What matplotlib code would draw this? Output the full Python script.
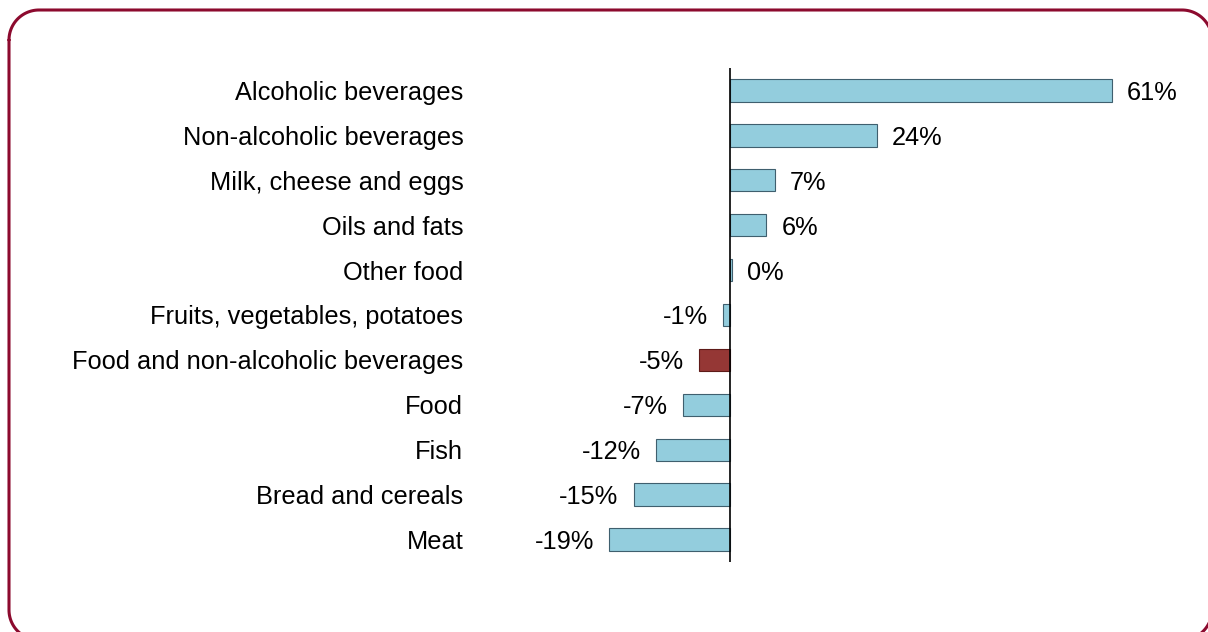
import numpy as np
import matplotlib.pyplot as plt

plt.rcParams['font.family'] = ['Liberation Sans', 'DejaVu Sans']

categories = ['Alcoholic beverages', 'Non-alcoholic beverages', 'Milk, cheese and eggs',
              'Oils and fats', 'Other food', 'Fruits, vegetables, potatoes',
              'Food and non-alcoholic beverages', 'Food', 'Fish', 'Bread and cereals', 'Meat']
values = [61.0, 23.5, 7.2, 5.8, 0.3, -1.1, -5.0, -7.5, -11.8, -15.4, -19.3]
labels = ['61%', '24%', '7%', '6%', '0%', '-1%', '-5%', '-7%', '-12%', '-15%', '-19%']
highlight = 'Food and non-alcoholic beverages'

W, H = 1208, 632
FS = 18.3
fig = plt.figure(figsize=(W / 100, H / 100), dpi=100)

# background axes in pixel units, only for the rounded frame
bg = fig.add_axes([0, 0, 1, 1])
bg.set_xlim(0, W)
bg.set_ylim(H, 0)
bg.axis('off')
L, T, R, B, r = 9, 10, 1212, 640, 30
t = np.linspace(0, np.pi / 2, 30)
xs = np.concatenate([L + r - r * np.cos(t), R - r + r * np.sin(t),
                     R - r + r * np.cos(t), L + r - r * np.sin(t), [L]])
ys = np.concatenate([T + r - r * np.sin(t), T + r - r * np.cos(t),
                     B - r + r * np.sin(t), B - r + r * np.cos(t), [T + r]])
bg.plot(xs, ys, color='#8C0A2E', linewidth=2.2, solid_capstyle='round')

# chart axes placed in pixels: zero line at x=730, 6.262 px per %
x0, x1 = 480, 1190
y0, y1 = 68, 562
ax = fig.add_axes([x0 / W, 1 - y1 / H, (x1 - x0) / W, (y1 - y0) / H])
ax.patch.set_alpha(0)
ppu = 382 / 61
ax.set_xlim((x0 - 730) / ppu, (x1 - 730) / ppu)

pos = list(range(len(categories)))[::-1]
colors = ['#953735' if c == highlight else '#93CDDD' for c in categories]
edges = ['#5E1A18' if c == highlight else '#3F5F6E' for c in categories]
ax.barh(pos, values, height=0.5, color=colors, edgecolor=edges, linewidth=0.8, zorder=2)
ax.set_ylim(-0.5, len(categories) - 0.5)
ax.axvline(0, color='black', linewidth=1.2, zorder=3)

for p, v, lab in zip(pos, values, labels):
    off = 15 / ppu
    if v >= 0:
        ax.text(v + off, p, lab, va='center_baseline', ha='left', fontsize=FS)
    else:
        ax.text(v - off, p, lab, va='center_baseline', ha='right', fontsize=FS)

ax.set_yticks(pos)
ax.set_yticklabels(categories, fontsize=FS, va='center_baseline')
ax.tick_params(axis='y', length=0, pad=12)
ax.set_xticks([])
for s in ax.spines.values():
    s.set_visible(False)

fig.savefig('out.png', dpi=100)
